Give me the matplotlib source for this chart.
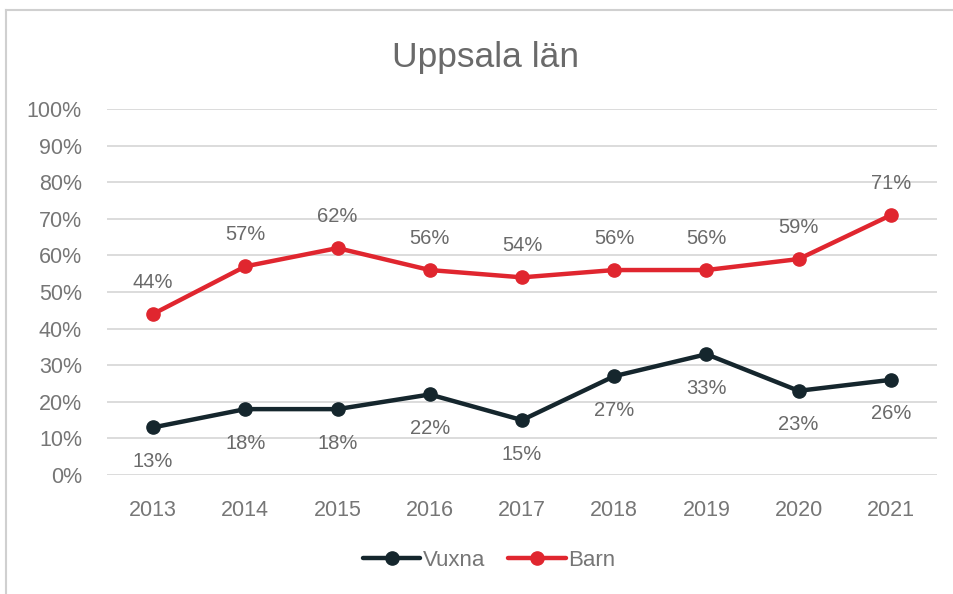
import matplotlib
matplotlib.use("Agg")
import matplotlib.pyplot as plt
from matplotlib.lines import Line2D

years = ["2013", "2014", "2015", "2016", "2017", "2018", "2019", "2020", "2021"]
vuxna = [13, 18, 18, 22, 15, 27, 33, 23, 26]
barn = [44, 57, 62, 56, 54, 56, 56, 59, 71]
yticks = [0, 10, 20, 30, 40, 50, 60, 70, 80, 90, 100]

plt.rcParams['font.family'] = ['Liberation Sans', 'DejaVu Sans']

fig = plt.figure(figsize=(9.54, 5.94), dpi=100)
ax = fig.add_axes([107/954, 1 - 475/594, 830/954, 366/594])

c_v = "#15262d"
c_b = "#e0262f"
x = list(range(len(years)))
ax.plot(x, vuxna, color=c_v, lw=3.2, marker="o", ms=9.5, label="Vuxna", solid_capstyle="round")
ax.plot(x, barn, color=c_b, lw=3.2, marker="o", ms=9.5, label="Barn", solid_capstyle="round")

lab_col = "#6a6a6a"
for xi, v in zip(x, vuxna):
    ax.annotate(f"{v}%", (xi, v), xytext=(0, -24.5), textcoords="offset points",
                ha="center", va="center", fontsize=14.5, color=lab_col)
for xi, v in zip(x, barn):
    ax.annotate(f"{v}%", (xi, v), xytext=(0, 23), textcoords="offset points",
                ha="center", va="center", fontsize=14.5, color=lab_col)

ax.set_xlim(-0.5, len(years) - 0.5)
ax.set_ylim(0, 100)
ax.set_yticks(yticks)
ax.set_yticklabels([f"{t}%" for t in yticks])
ax.set_xticks(x)
ax.set_xticklabels(years)
ax.tick_params(axis="both", length=0, labelsize=15.5, labelcolor="#767676")
ax.tick_params(axis="y", pad=18)
ax.tick_params(axis="x", pad=18)
ax.grid(axis="y", color="#d9d9d9", lw=1.3)
ax.set_axisbelow(True)
for s in ax.spines.values():
    s.set_visible(False)

fig.text(486/954, 1 - 57/594, "Uppsala län", ha="center", va="center", fontsize=25.5,
         color="#6a6a6a")

leg = fig.legend(loc="center", bbox_to_anchor=(489/954, 1 - 560/594), ncol=2, frameon=False,
                 fontsize=16, handlelength=2.6, columnspacing=1.0, handletextpad=0.12)
for t in leg.get_texts():
    t.set_color("#767676")

# outer frame
fig.add_artist(Line2D([6/954, 6/954], [0, 1 - 10/594], color="#d0d0d0", lw=1.5, transform=fig.transFigure))
fig.add_artist(Line2D([6/954, 1], [1 - 10/594, 1 - 10/594], color="#d0d0d0", lw=1.5, transform=fig.transFigure))

fig.savefig("out.png", dpi=100)
